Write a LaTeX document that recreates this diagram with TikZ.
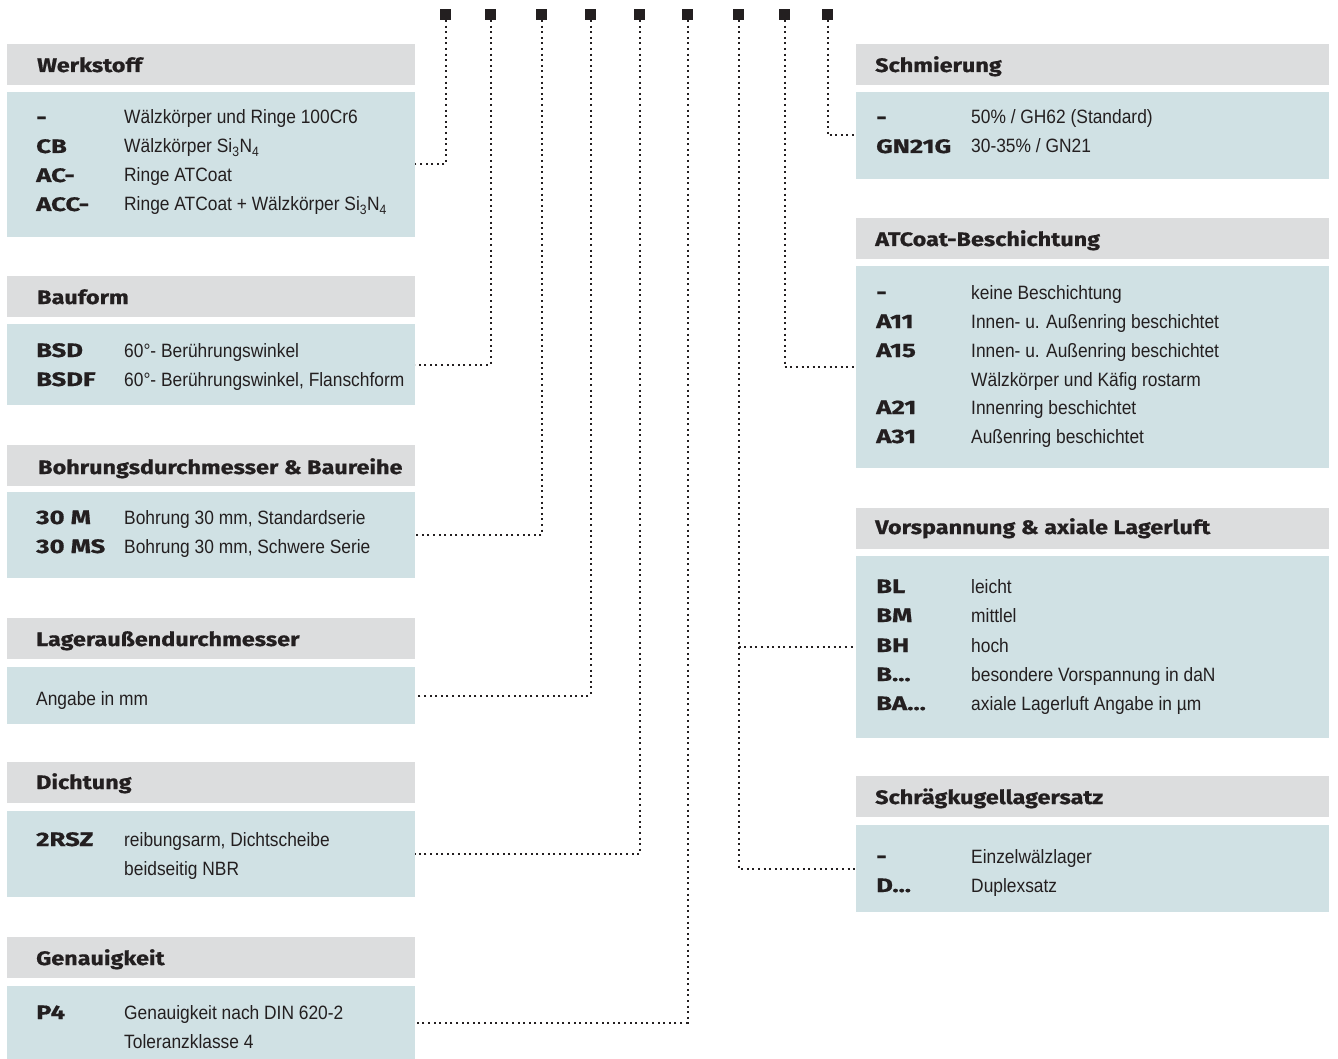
\documentclass[tikz,border=0pt]{standalone}
\usepackage{fontspec}
\setmainfont{Liberation Sans}[FakeStretch=0.9]
\newfontfamily\headfam{Fira Sans}[FakeStretch=1.2, FakeBold=0.7]
\newfontfamily\codefam{Fira Sans}[FakeStretch=1.32, FakeBold=0.7]
\usetikzlibrary{positioning}
\definecolor{headgray}{RGB}{220,221,222}
\definecolor{bodyblue}{RGB}{208,225,228}
\definecolor{inkblack}{RGB}{35,31,32}
\tikzset{
  headbox/.style={fill=headgray, anchor=north west, minimum width=408pt, minimum height=41pt, inner sep=0pt, outer sep=0pt},
  bodybox/.style={fill=bodyblue, anchor=north west, minimum width=408pt, inner sep=0pt, outer sep=0pt},
  head/.style={anchor=base west, inner sep=0pt, text=inkblack, font=\headfam\bfseries\fontsize{19.5}{22}\selectfont},
  code/.style={anchor=base west, inner sep=0pt, text=inkblack, font=\codefam\bfseries\fontsize{19.5}{22}\selectfont},
  desc/.style={anchor=base west, inner sep=0pt, text=inkblack, font=\fontsize{19.3}{22}\selectfont},
  sq/.style={fill=inkblack, minimum size=11pt, inner sep=0pt, outer sep=0pt},
  dots/.style={draw=inkblack, line width=2pt, dash pattern=on 2pt off 3.6pt}
}
\begin{document}
\begin{tikzpicture}[x=1pt, y=-1pt]
\useasboundingbox (0,0) rectangle (1338,1059);

% boxes, left column
\node[headbox] (werkH) at (7,44) {};
\node[bodybox, minimum height=145pt] (werkB) at (7,92) {};
\node[headbox] (bauH) at (7,276) {};
\node[bodybox, minimum height=81pt] (bauB) at (7,324) {};
\node[headbox] (bohrH) at (7,445) {};
\node[bodybox, minimum height=86pt] (bohrB) at (7,492) {};
\node[headbox] (lagH) at (7,618) {};
\node[bodybox, minimum height=57pt] (lagB) at (7,667) {};
\node[headbox] (dichH) at (7,762) {};
\node[bodybox, minimum height=86pt] (dichB) at (7,811) {};
\node[headbox] (genH) at (7,937) {};
\node[bodybox, minimum height=73pt] (genB) at (7,986) {};

% boxes, right column
\node[headbox, minimum width=473pt] (schmH) at (856,44) {};
\node[bodybox, minimum width=473pt, minimum height=87pt] (schmB) at (856,92) {};
\node[headbox, minimum width=473pt] (atcH) at (856,218) {};
\node[bodybox, minimum width=473pt, minimum height=202pt] (atcB) at (856,266) {};
\node[headbox, minimum width=473pt] (vorH) at (856,508) {};
\node[bodybox, minimum width=473pt, minimum height=182pt] (vorB) at (856,556) {};
\node[headbox, minimum width=473pt] (schrH) at (856,776) {};
\node[bodybox, minimum width=473pt, minimum height=87pt] (schrB) at (856,825) {};

% headings
\node[head] (werkT) at (37,72) {Werkstoff};
\node[head] (bauT) at (37,304) {Bauform};
\node[head] (bohrT) at (38,474) {Bohrungsdurchmesser \& Baureihe};
\node[head] (lagT) at (36,646) {Lageraußendurchmesser};
\node[head] (dichT) at (36,789) {Dichtung};
\node[head] (genT) at (36,965) {Genauigkeit};
\node[head] (schmT) at (875,72) {Schmierung};
\node[head] (atcT) at (875,246) {ATCoat-Beschichtung};
\node[head] (vorT) at (875,534) {Vorspannung \& axiale Lagerluft};
\node[head] (schrT) at (875,804) {Schrägkugellagersatz};

% Werkstoff
\node[code] (w1c) at (36,124) {-};
\node[desc] (w1d) at (124,124) {Wälzkörper und Ringe 100Cr6};
\node[code] (w2c) at (36,153) {CB};
\node[desc] (w2d) at (124,153) {Wälzkörper Si\textsubscript{3}N\textsubscript{4}};
\node[code] (w3c) at (36,182) {AC-};
\node[desc] (w3d) at (124,182) {Ringe ATCoat};
\node[code] (w4c) at (36,211) {ACC-};
\node[desc] (w4d) at (124,211) {Ringe ATCoat + Wälzkörper Si\textsubscript{3}N\textsubscript{4}};

% Bauform
\node[code] (b1c) at (36,357) {BSD};
\node[desc] (b1d) at (124,357) {60°- Berührungswinkel};
\node[code] (b2c) at (36,386) {BSDF};
\node[desc] (b2d) at (124,386) {60°- Berührungswinkel, Flanschform};

% Bohrung
\node[code] (h1c) at (36,524) {30 M};
\node[desc] (h1d) at (124,524) {Bohrung 30 mm, Standardserie};
\node[code] (h2c) at (36,553) {30 MS};
\node[desc] (h2d) at (124,553) {Bohrung 30 mm, Schwere Serie};

% Lageraussendurchmesser
\node[desc] (l1d) at (36,705) {Angabe in mm};

% Dichtung
\node[code] (d1c) at (36,846) {2RSZ};
\node[desc] (d1d) at (124,846) {reibungsarm, Dichtscheibe};
\node[desc] (d2d) at (124,875) {beidseitig NBR};

% Genauigkeit
\node[code] (g1c) at (36,1019) {P4};
\node[desc] (g1d) at (124,1019) {Genauigkeit nach DIN 620-2};
\node[desc] (g2d) at (124,1048) {Toleranzklasse 4};

% Schmierung
\node[code] (m1c) at (876,124) {-};
\node[desc] (m1d) at (971,124) {50\% / GH62 (Standard)};
\node[code] (m2c) at (876,153) {GN21G};
\node[desc] (m2d) at (971,153) {30-35\% / GN21};

% ATCoat
\node[code] (a1c) at (876,299) {-};
\node[desc] (a1d) at (971,299) {keine Beschichtung};
\node[code] (a2c) at (876,328) {A11};
\node[desc] (a2d) at (971,328) {Innen- u. Außenring beschichtet};
\node[code] (a3c) at (876,357) {A15};
\node[desc] (a3d) at (971,357) {Innen- u. Außenring beschichtet};
\node[desc] (a4d) at (971,386) {Wälzkörper und Käfig rostarm};
\node[code] (a5c) at (876,414) {A21};
\node[desc] (a5d) at (971,414) {Innenring beschichtet};
\node[code] (a6c) at (876,443) {A31};
\node[desc] (a6d) at (971,443) {Außenring beschichtet};

% Vorspannung
\node[code] (v1c) at (876,593) {BL};
\node[desc] (v1d) at (971,593) {leicht};
\node[code] (v2c) at (876,622) {BM};
\node[desc] (v2d) at (971,622) {mittlel};
\node[code] (v3c) at (876,652) {BH};
\node[desc] (v3d) at (971,652) {hoch};
\node[code] (v4c) at (876,681) {B...};
\node[desc] (v4d) at (971,681) {besondere Vorspannung in daN};
\node[code] (v5c) at (876,710) {BA...};
\node[desc] (v5d) at (971,710) {axiale Lagerluft Angabe in µm};

% Schraegkugellagersatz
\node[code] (k1c) at (876,863) {-};
\node[desc] (k1d) at (971,863) {Einzelwälzlager};
\node[code] (k2c) at (876,892) {D...};
\node[desc] (k2d) at (971,892) {Duplexsatz};

% marks on top
\foreach \i/\x in {1/445.5, 2/490.5, 3/541.5, 4/590.5, 5/639.5, 6/687.5, 7/738.5, 8/784.5, 9/827.5}
  \node[sq] (s\i) at (\x,14.5) {};

% dotted leaders
\draw[dots] (s1.south) |- (werkB.east);
\draw[dots] (s2.south) |- (bauB.east);
\draw[dots] (s3.south) |- (bohrB.east);
\draw[dots] (s4.south) |- (lagB.east);
\draw[dots] (s5.south) |- (dichB.east);
\draw[dots] (s6.south) |- (genB.east);
\draw[dots] (s7.south) |- (schrB.west);
\draw[dots] (s7 |- vorB.west) -- (vorB.west);
\draw[dots] (s8.south) |- (atcB.west);
\draw[dots] (s9.south) |- (schmB.west);
\end{tikzpicture}
\end{document}
